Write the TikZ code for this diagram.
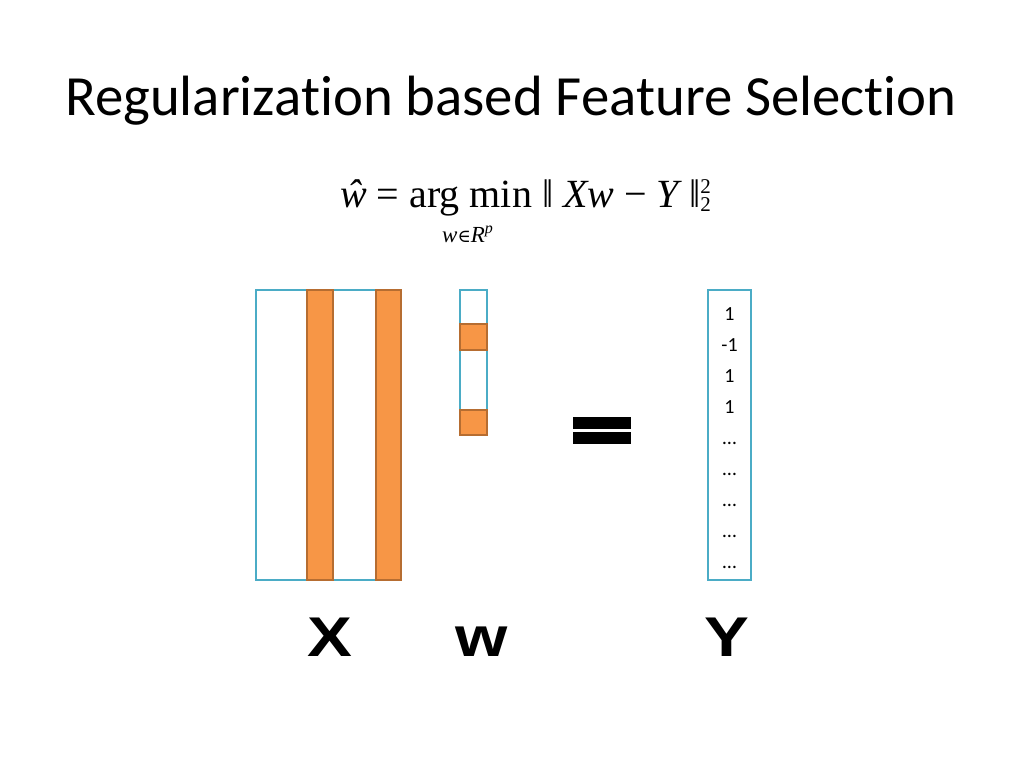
\documentclass[tikz,border=0pt]{standalone}
\usepackage{fontspec}
\setmainfont{Carlito}[Ligatures=NoCommon]
\newfontfamily\tms{Liberation Serif}
\newfontfamily\dvs{DejaVu Serif}
\newfontfamily\arl{Liberation Sans}
\definecolor{bl}{HTML}{4BACC6}
\definecolor{orf}{HTML}{F79646}
\definecolor{ord}{HTML}{B66D31}
\begin{document}
\begin{tikzpicture}[x=1pt,y=-1pt,
  bluebox/.style={draw=bl,line width=2.5pt},
  orbox/.style={draw=ord,fill=orf,line width=2.5pt},
  num/.style={font=\fontsize{20}{20}\selectfont,inner sep=0pt,anchor=base},
  big/.style={font=\arl\bfseries\fontsize{56}{56}\selectfont,inner sep=0pt,anchor=base,xscale=1.2}]
\useasboundingbox (0,0) rectangle (1024,768);
\node[anchor=base,inner sep=0pt,font=\fontsize{56.8}{56.8}\selectfont] (title) at (511,115) {Regularization based Feature Selection};
% equation
\node[anchor=base west,inner sep=0pt,font=\tms\fontsize{40}{40}\selectfont] (eq) at (340,207)
  {{\itshape ŵ} = arg min ǁ {\itshape Xw} − {\itshape Y} ǁ\raisebox{14pt}{\fontsize{21}{21}\selectfont 2}\kern-10.5pt\raisebox{-4pt}{\fontsize{21}{21}\selectfont 2}};
\node[anchor=base west,inner sep=0pt,font=\tms\fontsize{23}{23}\selectfont] (sub) at (442,242)
  {{\itshape w}{\dvs\fontsize{18}{18}\selectfont ∈}{\itshape R}\raisebox{9pt}{\fontsize{16}{16}\selectfont\itshape p}};
% X
\draw[bluebox] (256,290) rectangle (401,580);
\draw[orbox] (307,290) rectangle (333,580);
\draw[orbox] (376,290) rectangle (401,580);
% w
\draw[bluebox] (460,290) rectangle (487,435);
\draw[orbox] (460,324) rectangle (487,350);
\draw[orbox] (460,410) rectangle (487,435);
% equals
\fill (573,417) rectangle (631,429);
\fill (573,432) rectangle (631,444);
% Y
\draw[bluebox] (708,290) rectangle (751,580);
\foreach \t/\yy in {1/320,-1/351,1/382,1/413,…/444,…/475,…/506,…/537,…/568}
  \node[num] at (729.5,\yy) {\t};
% labels
\node[big] (LX) at (330,656) {X};
\node[big] (Lw) at (482,656) {w};
\node[big] (LY) at (727,656) {Y};
\end{tikzpicture}
\end{document}
